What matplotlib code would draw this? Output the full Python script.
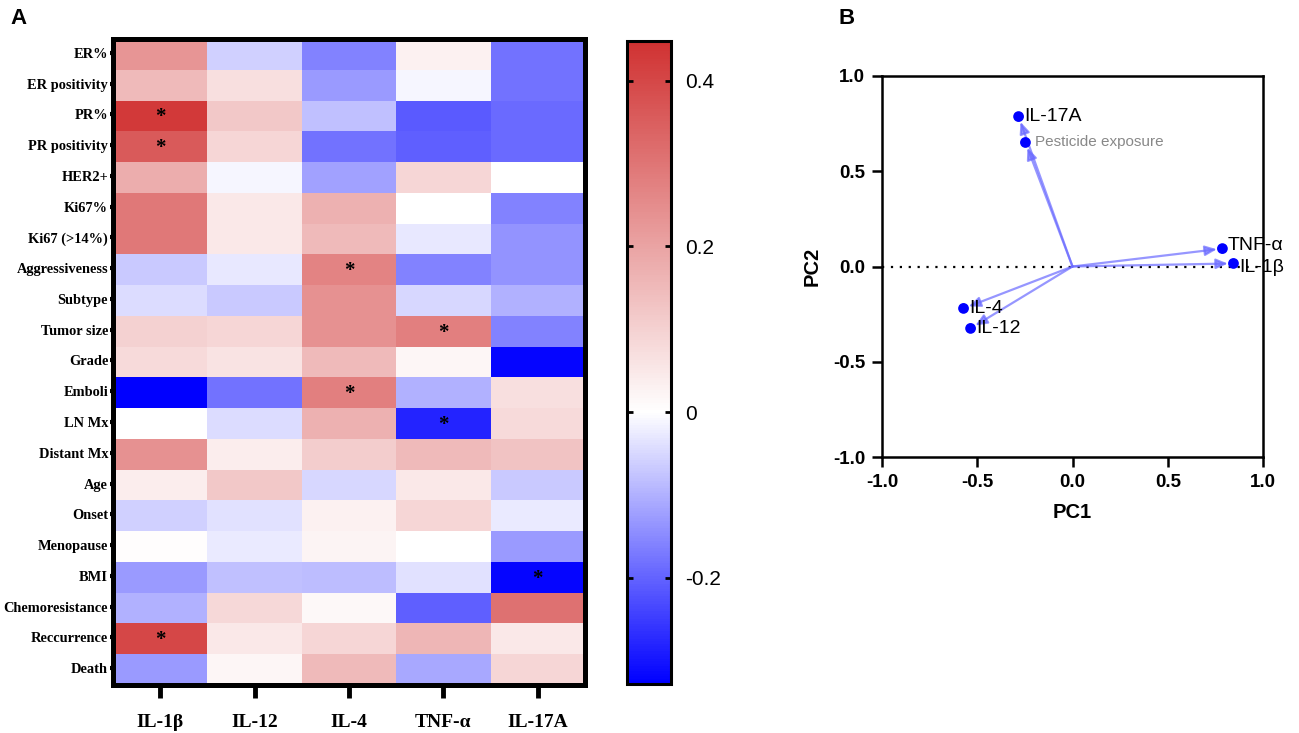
import numpy as np
import matplotlib
matplotlib.use("Agg")
import matplotlib.pyplot as plt
from matplotlib.colors import LinearSegmentedColormap, Normalize

W, H = 1299, 733

# heatmap data (correlation coefficients)
cytokines = ["IL-1β", "IL-12", "IL-4", "TNF-α", "IL-17A"]
features = ["ER%", "ER positivity", "PR%", "PR positivity", "HER2+", "Ki67%",
            "Ki67 (>14%)", "Aggressiveness", "Subtype", "Tumor size", "Grade",
            "Emboli", "LN Mx", "Distant Mx", "Age", "Onset", "Menopause", "BMI",
            "Chemoresistance", "Reccurrence", "Death"]
corr = [
    [0.23, -0.06, -0.16, 0.03, -0.18],
    [0.15, 0.07, -0.13, -0.01, -0.18],
    [0.43, 0.12, -0.08, -0.21, -0.19],
    [0.36, 0.09, -0.18, -0.205, -0.19],
    [0.18, -0.01, -0.12, 0.09, 0.0],
    [0.295, 0.05, 0.17, 0.0, -0.16],
    [0.295, 0.05, 0.15, -0.03, -0.14],
    [-0.07, -0.03, 0.27, -0.16, -0.14],
    [-0.045, -0.07, 0.24, -0.05, -0.10],
    [0.10, 0.09, 0.24, 0.28, -0.16],
    [0.08, 0.06, 0.15, 0.02, -0.32],
    [-0.325, -0.18, 0.28, -0.10, 0.07],
    [0.0, -0.045, 0.17, -0.28, 0.08],
    [0.24, 0.04, 0.11, 0.15, 0.13],
    [0.04, 0.12, -0.05, 0.05, -0.07],
    [-0.06, -0.04, 0.03, 0.09, -0.025],
    [0.005, -0.025, 0.025, 0.0, -0.13],
    [-0.13, -0.08, -0.085, -0.04, -0.32],
    [-0.10, 0.085, 0.015, -0.205, 0.31],
    [0.40, 0.05, 0.09, 0.16, 0.05],
    [-0.13, 0.02, 0.15, -0.11, 0.09],
]
# significant cells (row, col)
stars = [(2, 0), (3, 0), (7, 2), (9, 3), (11, 2), (12, 3), (17, 4), (19, 0)]

vmin, vmax = -0.328, 0.448
cb_ticks = [0.4, 0.2, 0, -0.2]
cb_labels = ["0.4", "0.2", "0", "-0.2"]

# PCA loadings
pc_names = ["IL-17A", "Pesticide exposure", "TNF-α", "IL-1β", "IL-4", "IL-12"]
pc1 = [-0.283, -0.247, 0.787, 0.845, -0.572, -0.535]
pc2 = [0.787, 0.651, 0.094, 0.016, -0.220, -0.325]


def box(l, t, r, b):
    return [l / W, 1 - b / H, (r - l) / W, (b - t) / H]


fig = plt.figure(figsize=(W / 100, H / 100), dpi=100)

serif = ["Liberation Serif", "DejaVu Serif"]
sans = ["Liberation Sans", "DejaVu Sans"]

# ---- panel A: heatmap
f0 = -vmin / (vmax - vmin)
cmap = LinearSegmentedColormap.from_list(
    "bwr_gp", [(0.0, (0, 0, 1)), (f0, (1, 1, 1)), (1.0, (208 / 255, 50 / 255, 50 / 255))])
norm = Normalize(vmin=vmin, vmax=vmax)

ax = fig.add_axes(box(113, 39, 585, 685))
data = np.array(corr)
mesh = ax.pcolormesh(np.arange(len(cytokines) + 1), np.arange(len(features) + 1),
                     data, cmap=cmap, norm=norm)
ax.set_xlim(0, len(cytokines))
ax.set_ylim(len(features), 0)
for r, c in stars:
    ax.text(c + 0.5, r + 0.55, "*", ha="center", va="center", fontsize=15,
            fontweight="bold", family=serif, color="black")

ax.set_yticks(np.arange(len(features)) + 0.45)
ax.set_yticklabels(features, family=serif, fontweight="bold", fontsize=10.4)
ax.set_xticks(np.arange(len(cytokines)) + 0.5)
ax.set_xticklabels(cytokines, family=serif, fontweight="bold", fontsize=14)
ax.tick_params(axis="y", length=2.5, width=3, pad=1)
ax.tick_params(axis="x", length=9, width=3.5, pad=12)
for s in ax.spines.values():
    s.set_linewidth(3.6)

cax = fig.add_axes(box(627, 41, 671, 684))
cb = fig.colorbar(mesh, cax=cax)
cb.set_ticks(cb_ticks)
cb.set_ticklabels(cb_labels)
cax.tick_params(direction="in", left=True, right=True, length=4, width=2,
                labelsize=15, pad=10)
for lab in cax.get_yticklabels():
    lab.set_family(sans)
cb.outline.set_linewidth(2.2)

fig.text(10 / W, 1 - 18 / H, "A", fontsize=16, fontweight="bold", family=sans,
         va="center", ha="left")
fig.text(838 / W, 1 - 18 / H, "B", fontsize=16, fontweight="bold", family=sans,
         va="center", ha="left")

# ---- panel B: PCA loadings
bx = fig.add_axes(box(882, 76, 1263, 457))
bx.set_xlim(-1, 1)
bx.set_ylim(-1, 1)
bx.axhline(0, color="black", ls=(0, (1, 3)), lw=1.6, zorder=1)
for name, x, y in zip(pc_names, pc1, pc2):
    bx.annotate("", xy=(x, y), xytext=(0, 0),
                arrowprops=dict(arrowstyle="-|>,head_length=0.7,head_width=0.3",
                                color="#6a6aff", alpha=0.7, lw=1.6,
                                shrinkA=0, shrinkB=4))
bx.scatter(pc1, pc2, s=60, color="#0000ff", zorder=3, edgecolor="none")
# small vertical nudges keep the two right-hand labels apart
nudge = {"TNF-α": 2.5, "IL-1β": -3.0}
for name, x, y in zip(pc_names, pc1, pc2):
    if name == "Pesticide exposure":
        bx.annotate(name, (x, y), xytext=(7, 0), textcoords="offset points",
                    va="center", ha="left", fontsize=11, color="#888888",
                    family=sans)
    else:
        bx.annotate(name, (x, y), xytext=(4, nudge.get(name, 0)),
                    textcoords="offset points", va="center", ha="left",
                    fontsize=14, color="black", family=sans,
                    annotation_clip=False)

bx.set_xticks([-1.0, -0.5, 0.0, 0.5, 1.0])
bx.set_yticks([-1.0, -0.5, 0.0, 0.5, 1.0])
bx.set_xticklabels(["-1.0", "-0.5", "0.0", "0.5", "1.0"])
bx.set_yticklabels(["-1.0", "-0.5", "0.0", "0.5", "1.0"])
bx.tick_params(length=7, width=1.8, labelsize=13.5, pad=5)
for lab in bx.get_xticklabels() + bx.get_yticklabels():
    lab.set_family(sans)
    lab.set_fontweight("bold")
bx.set_xlabel("PC1", fontsize=14.5, fontweight="bold", family=sans, labelpad=9)
bx.set_ylabel("PC2", fontsize=14.5, fontweight="bold", family=sans, labelpad=8)
for s in bx.spines.values():
    s.set_linewidth(1.8)

fig.savefig("out.png", dpi=100)
